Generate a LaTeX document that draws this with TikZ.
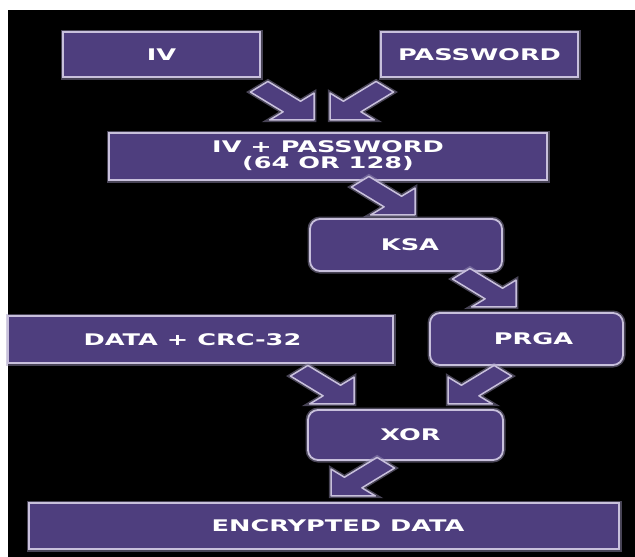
\documentclass[tikz,border=0pt]{standalone}
\usepackage{fontspec}
\setmainfont{DejaVu Sans}
\usetikzlibrary{calc}
\definecolor{boxfill}{HTML}{4E3E7E}
\definecolor{boxedge}{HTML}{C8C0DC}
\definecolor{glowc}{HTML}{A098C0}
\newcommand{\wtxt}[1]{\scalebox{1.6}[1]{\bfseries #1}}
\newcommand{\blockarrow}[2]{\draw[barrow, shift={(#1)}, xscale=1.65, rotate=#2] (-23,-7.5) -- (5,-7.5) -- (5,-19) -- (24,0) -- (5,19) -- (5,7.5) -- (-23,7.5) -- cycle;}
\begin{document}
\begin{tikzpicture}[x=1pt,y=-1pt,
 boxbase/.style={draw=boxedge, line width=1.8pt, fill=boxfill, text=white,
   font=\fontsize{16}{14}\selectfont\bfseries, align=center, inner sep=0pt,
   preaction={draw=glowc, line width=5pt, opacity=0.45}},
 sqbox/.style={boxbase},
 rdbox/.style={boxbase, rounded corners=10pt},
 barrow/.style={draw=boxedge, line width=1.5pt, fill=boxfill, line join=round,
   preaction={draw=glowc, line width=4.5pt, opacity=0.45}}
]
\fill[white] (0,0) rectangle (635,557);
\fill[black] (8,10) rectangle (635,557);
\useasboundingbox (0,0) rectangle (635,557);

\node[sqbox, minimum width=197pt, minimum height=45pt] (iv) at (161.5,54.5) {\wtxt{IV}};
\node[sqbox, minimum width=197pt, minimum height=45pt] (pw) at (479.5,54.5) {\wtxt{PASSWORD}};
\node[sqbox, minimum width=438pt, minimum height=47pt] (ivpw) at (328,156.5)
  {\wtxt{\begin{tabular}{@{}c@{}}IV + PASSWORD\\(64 OR 128)\end{tabular}}};
\node[rdbox, minimum width=192pt, minimum height=52pt] (ksa) at (406,245) {\hspace*{8pt}\wtxt{KSA}};
\node[sqbox, minimum width=385pt, minimum height=47pt] (data) at (200.5,339.5) {\wtxt{DATA + CRC-32}\hspace*{16pt}};
\node[rdbox, minimum width=193pt, minimum height=52pt] (prga) at (526.5,339) {\hspace*{14pt}\wtxt{PRGA}};
\node[rdbox, minimum width=195pt, minimum height=50pt] (xor) at (405.5,435) {\hspace*{10pt}\wtxt{XOR}};
\node[sqbox, minimum width=590pt, minimum height=46pt] (enc) at (324,526) {\hspace*{28pt}\wtxt{ENCRYPTED DATA}};

\coordinate (a1) at (286,103);
\coordinate (a2) at (358,103);
\coordinate (a3) at (387,198);
\coordinate (a4) at (488,290);
\coordinate (a5) at (326,387);
\coordinate (a6) at (476,387);
\coordinate (a7) at (359,479);

\blockarrow{a1}{-45}
\blockarrow{a2}{-135}
\blockarrow{a3}{-45}
\blockarrow{a4}{-45}
\blockarrow{a5}{-45}
\blockarrow{a6}{-135}
\blockarrow{a7}{-135}
\end{tikzpicture}
\end{document}
